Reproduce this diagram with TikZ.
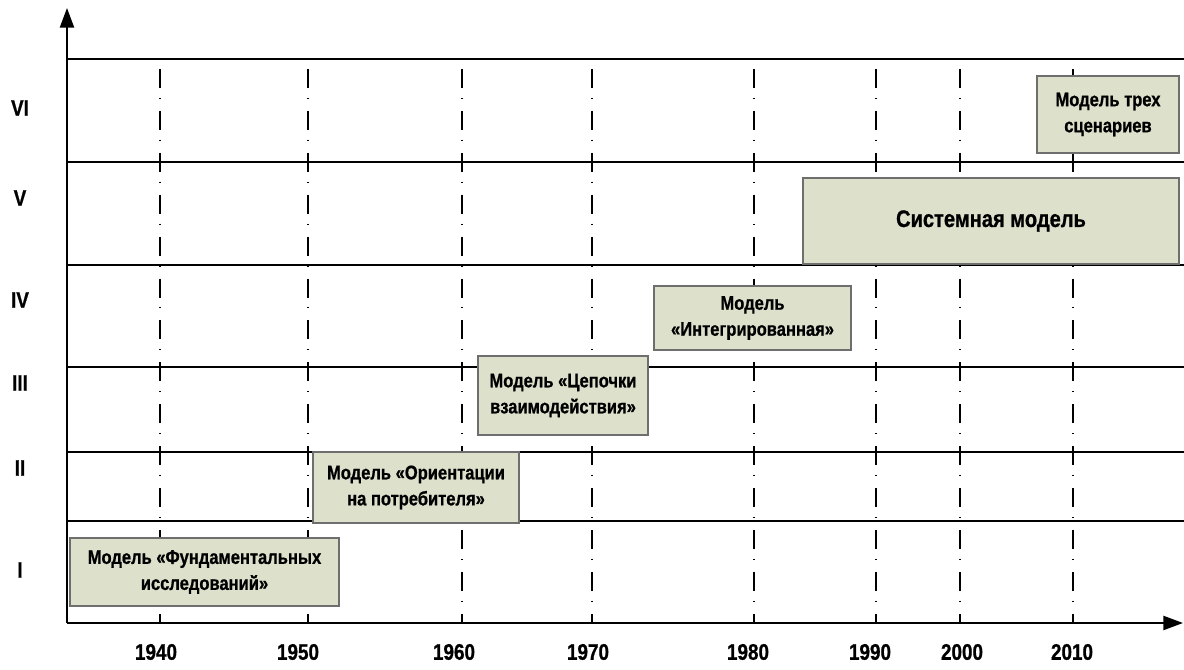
\documentclass[tikz,border=0pt]{standalone}
\usepackage{fontspec}
\setmainfont{Liberation Sans}[FakeStretch=0.84,BoldFeatures={FakeBold=0.8}]
\usetikzlibrary{arrows.meta,shadows}
\definecolor{boxfill}{RGB}{221,224,203}
\definecolor{boxline}{RGB}{110,110,110}
\begin{document}
\begin{tikzpicture}[x=0.025cm,y=-0.025cm,
  axis/.style={line width=1.5pt,-{Triangle[length=14pt,width=10pt]}},
  band/.style={line width=1.5pt},
  gridline/.style={line width=0.9pt,dash pattern=on 13.5pt off 7pt on 0.8pt off 8.5pt},
  model/.style={draw=boxline,fill=boxfill,line width=0.9pt,align=center,inner sep=2pt,
    font=\fontsize{14pt}{18.5pt}\selectfont\bfseries,
    drop shadow={shadow xshift=0.8pt,shadow yshift=-0.8pt,fill=black!45,opacity=1}},
  year/.style={font=\fontsize{16pt}{19pt}\selectfont\bfseries},
  level/.style={font=\fontsize{16pt}{19pt}\selectfont\bfseries}]
\useasboundingbox (0,0) rectangle (1184,670);
% time marks
\foreach \x in {160,308,462,592,754,876,960,1073}
  \draw[gridline] (\x,69) -- (\x,623);
% levels
\foreach \y in {59,162,265,367,452,521}
  \draw[band] (67,\y) -- (1184,\y);
% models
\node[model,minimum width=6.725cm,minimum height=1.7cm] (m1) at (204.5,572) {Модель «Фундаментальных\\исследований»};
\node[model,minimum width=5.15cm,minimum height=1.775cm] (m2) at (416,487.5) {Модель «Ориентации\\на потребителя»};
\node[model,minimum width=4.25cm,minimum height=1.975cm] (m3) at (563,395.5) {Модель «Цепочки\\взаимодействия»};
\node[model,minimum width=4.925cm,minimum height=1.6cm] (m4) at (752.5,318) {Модель\\«Интегрированная»};
\node[model,minimum width=9.4cm,minimum height=2.15cm,font=\fontsize{17pt}{20pt}\selectfont\bfseries] (m5) at (991,221) {Системная модель};
\node[model,minimum width=3.55cm,minimum height=1.925cm] (m6) at (1108,114.5) {Модель трех\\сценариев};
% axes
\coordinate (o) at (67,623);
\coordinate (ytop) at (67,8);
\coordinate (xend) at (1183,623);
\draw[axis] (o) -- (ytop);
\draw[axis] (o) -- (xend);
% level labels
\node[level] (l1) at (20,570) {I};
\node[level] (l2) at (20,468) {II};
\node[level] (l3) at (20,383) {III};
\node[level] (l4) at (20,300) {IV};
\node[level] (l5) at (20,198) {V};
\node[level] (l6) at (20,108) {VI};
% years
\foreach \x/\yr in {156/1940,298/1950,454/1960,588/1970,748/1980,870/1990,962/2000,1072/2010}
  \node[year] (y\yr) at (\x,652) {\yr};
\end{tikzpicture}
\end{document}
